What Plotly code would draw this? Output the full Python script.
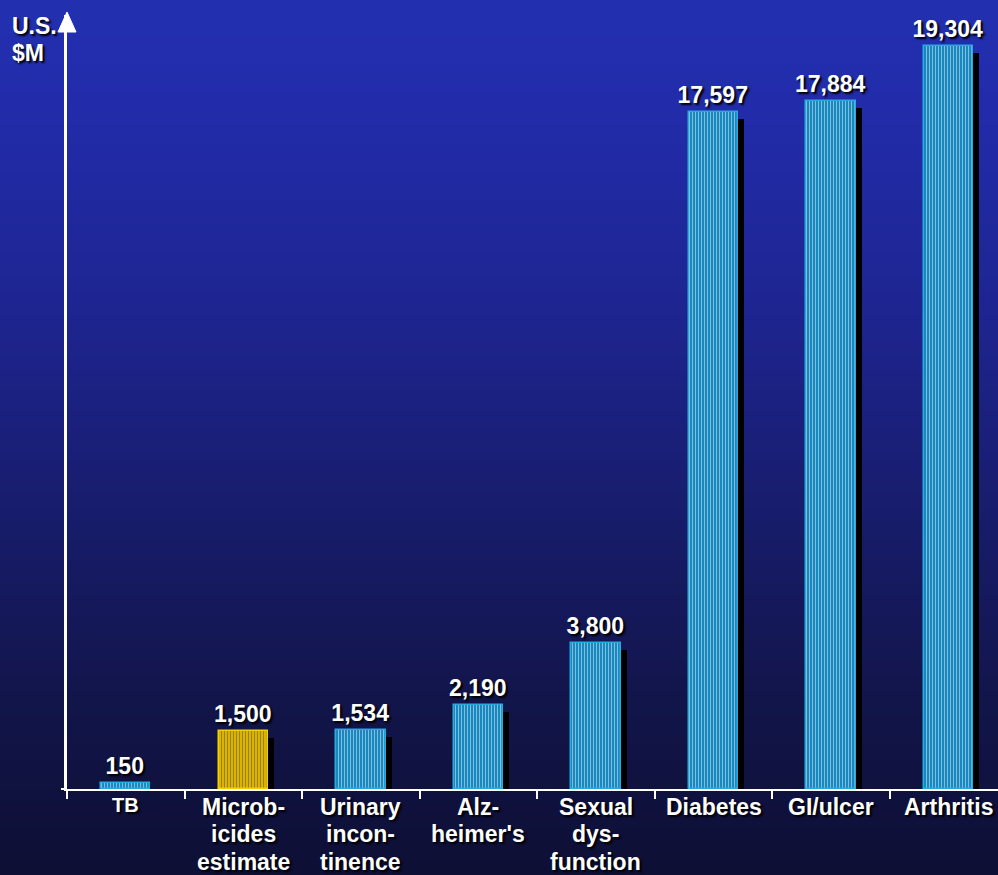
import plotly.graph_objects as go

categories = ["TB", "Microbicides estimate", "Urinary incontinence", "Alzheimer's",
              "Sexual dysfunction", "Diabetes", "GI/ulcer", "Arthritis"]
tick_lines = [["TB"], ["Microb-", "icides", "estimate"], ["Urinary", "incon-", "tinence"],
              ["Alz-", "heimer's"], ["Sexual", "dys-", "function"],
              ["Diabetes"], ["GI/ulcer"], ["Arthritis"]]
values = [150, 1500, 1534, 2190, 3800, 17597, 17884, 19304]
value_labels = ["150", "1,500", "1,534", "2,190", "3,800", "17,597", "17,884", "19,304"]
highlight = [False, True, False, False, False, False, False, False]

W, H = 998, 875
ML, MT, MB = 67, 15, 86
PW, PH = W - ML, H - MT - MB
YMAX = 20110
px_per_unit = PH / YMAX
BAR_W = 0.42
CAT_PX = PW / 7.92
FONT = "Liberation Sans, Arial"
SHADOW = "2px 2px 2px #000000"

fig = go.Figure()

# background gradient bands
stops = [(0, (34, 48, 176)), (100, (34, 44, 171)), (300, (30, 37, 146)),
         (500, (24, 29, 110)), (700, (18, 21, 74)), (875, (13, 15, 52))]
def col_at(p):
    for (p0, c0), (p1, c1) in zip(stops[:-1], stops[1:]):
        if p0 <= p <= p1:
            t = (p - p0) / (p1 - p0)
            return "rgb(%d,%d,%d)" % tuple(round(a + (b - a) * t) for a, b in zip(c0, c1))
    return "rgb(13,15,52)"

shapes = []
step = 5
for p in range(0, H, step):
    y_top = (H - MB - p) / PH
    y_bot = (H - MB - p - step - 1) / PH
    shapes.append(dict(type="rect", xref="paper", yref="paper", layer="below",
                       x0=-ML / PW - 0.01, x1=1.01, y0=y_bot, y1=y_top,
                       fillcolor=col_at(p + step / 2), line=dict(width=0)))

# arrow head on y axis
shapes.append(dict(type="path", xref="paper", yref="paper", xsizemode="pixel", ysizemode="pixel",
                   xanchor=0, yanchor=1, path="M -9,-17 L 0,3 L 9,-17 Z",
                   fillcolor="white", line=dict(color="white", width=1), layer="above"))
# x axis extension to the left of the y axis
shapes.append(dict(type="line", xref="paper", yref="paper", xsizemode="pixel", ysizemode="pixel",
                   xanchor=0, yanchor=0, x0=-6, x1=0, y0=0, y1=0,
                   line=dict(color="white", width=2), layer="above"))

# shadow bars
shadow_dx = 6 / CAT_PX
shadow_dy = 7 / px_per_unit
fig.add_trace(go.Bar(
    x=categories, y=[max(v - shadow_dy, 0) for v in values], width=BAR_W,
    offset=-BAR_W / 2 + shadow_dx, marker=dict(color="black", line=dict(width=0)),
    hoverinfo="skip", showlegend=False))

bg = ["#dcb400" if h else "#1888c0" for h in highlight]
fg = ["#b08c00" if h else "#11699a" for h in highlight]
ln = ["#f5d000" if h else "#27aade" for h in highlight]
fig.add_trace(go.Bar(
    x=categories, y=values, width=BAR_W, offset=-BAR_W / 2,
    marker=dict(color=bg, line=dict(color=ln, width=1.5),
                pattern=dict(shape="|", fgcolor=fg, bgcolor=bg, size=3, solidity=0.3)),
    text=value_labels, textposition="outside", cliponaxis=False, constraintext="none",
    textfont=dict(color="white", size=23, family=FONT, weight="bold", shadow=SHADOW),
    showlegend=False))

# category labels, one line each
annotations = []
for cat, lines in zip(categories, tick_lines):
    size = 20 if cat == "TB" else 23
    for i, line in enumerate(lines):
        annotations.append(dict(
            xref="x", yref="paper", x=cat, y=(-3 - 27.5 * i) / PH, yanchor="top",
            xanchor="center", showarrow=False, text=line,
            font=dict(color="white", size=size, family=FONT, weight="bold", shadow=SHADOW)))

annotations.append(dict(xref="paper", yref="paper", x=-57 / PW, y=(H - MB - 11) / PH,
                        xanchor="left", yanchor="top", showarrow=False, text="U.S.",
                        font=dict(color="white", size=23, family=FONT, weight="bold", shadow=SHADOW)))
annotations.append(dict(xref="paper", yref="paper", x=-57 / PW, y=(H - MB - 38) / PH,
                        xanchor="left", yanchor="top", showarrow=False, text="$M",
                        font=dict(color="white", size=23, family=FONT, weight="bold", shadow=SHADOW)))

fig.update_layout(
    width=W, height=H, margin=dict(l=ML, r=0, t=MT, b=MB),
    paper_bgcolor="rgb(13,15,52)", plot_bgcolor="rgba(0,0,0,0)",
    barmode="overlay", shapes=shapes, annotations=annotations, bargap=0,
    xaxis=dict(type="category", categoryorder="array", categoryarray=categories,
               range=[-0.5, 7.42], showticklabels=False,
               showline=True, linecolor="white", linewidth=2, showgrid=False,
               ticks="outside", tickson="boundaries", ticklen=8, tickcolor="white", tickwidth=2),
    yaxis=dict(range=[0, YMAX], showline=True, linecolor="white", linewidth=3,
               showgrid=False, zeroline=False, showticklabels=False, ticks=""),
)

fig.write_html("out.html", config={"displayModeBar": False},
               post_script="document.body.style.margin='0';document.body.style.overflow='hidden';")
